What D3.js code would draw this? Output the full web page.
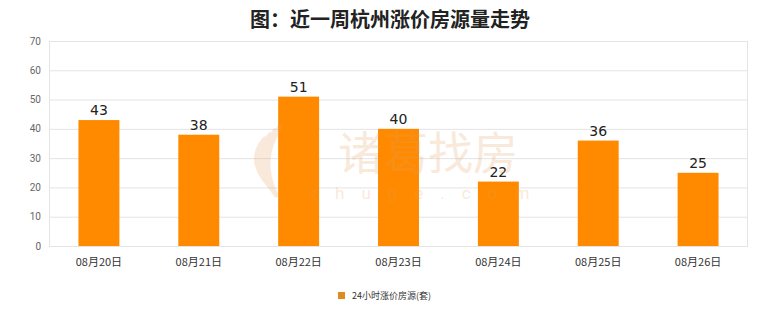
<!DOCTYPE html>
<html>
<head>
<meta charset="utf-8">
<script src="https://cdn.jsdelivr.net/npm/d3@7"></script>
<style>
  body { margin: 0; background: #fff; }
  svg { display: block; font-family: "Noto Sans CJK SC", "Noto Sans", sans-serif; }
</style>
</head>
<body>
<div id="chart"></div>
<script>
'use strict'

// data
const dates = ['08月20日', '08月21日', '08月22日', '08月23日', '08月24日', '08月25日', '08月26日']
const counts = [43, 38, 51, 40, 22, 36, 25]
const yTicks = [0, 10, 20, 30, 40, 50, 60, 70]
const seriesName = '24小时涨价房源(套)'

const svgWidth = 780, svgHeight = 328
const margin = { left: 49, right: 32, top: 41, bottom: 82 }
const width = svgWidth - margin.left - margin.right
const height = svgHeight - margin.top - margin.bottom

const svg = d3.select('#chart').append('svg')
    .attr('width', svgWidth)
    .attr('height', svgHeight)

// title
svg.append('text')
    .attr('x', 390).attr('y', 27)
    .attr('text-anchor', 'middle')
    .style('font-size', '20px')
    .style('font-weight', 'bold')
    .style('fill', '#222')
    .text('图：近一周杭州涨价房源量走势')

const g = svg.append('g').attr('transform', `translate(${margin.left},${margin.top})`)

const x = d3.scaleBand().domain(dates).range([0, width]).paddingInner(0.59).paddingOuter(0.295)
const y = d3.scaleLinear().domain([0, 70]).range([height, 0])

// grid
g.selectAll('.grid').data(yTicks).join('line')
    .attr('class', 'grid')
    .attr('x1', 0).attr('x2', width)
    .attr('y1', d => y(d) + 0.5).attr('y2', d => y(d) + 0.5)
    .style('stroke', '#e4e4e4')

g.append('line').attr('x1', 0.5).attr('x2', 0.5).attr('y1', 0).attr('y2', height).style('stroke', '#e4e4e4')
g.append('line').attr('x1', width - 0.5).attr('x2', width - 0.5).attr('y1', 0).attr('y2', height).style('stroke', '#e4e4e4')

// y labels
g.selectAll('.ylab').data(yTicks).join('text')
    .attr('class', 'ylab')
    .attr('x', -8).attr('y', d => y(d) + 3.5)
    .attr('text-anchor', 'end')
    .style('font-size', '10px')
    .style('font-family', 'Roboto, sans-serif')
    .style('fill', '#666')
    .text(d => d)

// watermark (behind bars)
const wm = svg.append('g').style('opacity', 0.22).style('fill', '#e8a060')
wm.append('text').attr('x', 428).attr('y', 170).attr('text-anchor', 'middle')
    .style('font-size', '45px').text('诸葛找房')
wm.append('text').attr('x', 428).attr('y', 199).attr('text-anchor', 'middle')
    .style('font-size', '17px').style('letter-spacing', '17px').style('font-family', 'Roboto, sans-serif')
    .text('zhuge.com')
// feather logo
const logo = wm.append('g').attr('transform', 'translate(272,165)')
    .style('fill', 'none').style('stroke', '#e8a060').style('stroke-linecap', 'round')
;[0, 1, 2, 3].forEach(i => {
    logo.append('path')
        .attr('d', `M${8 - i * 5},${-38 + i * 4} Q${-14 - i * 4},${-5} ${4 - i * 2},${30 - i * 3}`)
        .style('stroke-width', 5)
})

// bars
g.selectAll('.bar').data(counts).join('rect')
    .attr('class', 'bar')
    .attr('x', (d, i) => x(dates[i]))
    .attr('y', d => y(d))
    .attr('width', x.bandwidth())
    .attr('height', d => height - y(d))
    .style('fill', '#ff8a00')

g.selectAll('.val').data(counts).join('text')
    .attr('class', 'val')
    .attr('x', (d, i) => x(dates[i]) + x.bandwidth() / 2)
    .attr('y', d => y(d) - 5)
    .attr('text-anchor', 'middle')
    .style('font-size', '14px')
    .style('font-family', '"DejaVu Sans", sans-serif')
    .style('fill', '#222')
    .text(d => d)

// x labels
g.selectAll('.xlab').data(dates).join('text')
    .attr('class', 'xlab')
    .attr('x', d => x(d) + x.bandwidth() / 2)
    .attr('y', height + 20)
    .attr('text-anchor', 'middle')
    .style('font-size', '11px')
    .style('fill', '#333')
    .text(d => d)

// legend
const lg = svg.append('g').attr('transform', 'translate(338,296)')
lg.append('rect').attr('x', 0).attr('y', -4).attr('width', 7).attr('height', 7).style('fill', '#e08a20')
lg.append('text').attr('x', 14).attr('y', 3)
    .style('font-size', '9px').style('fill', '#333').text(seriesName)
</script>
</body>
</html>
